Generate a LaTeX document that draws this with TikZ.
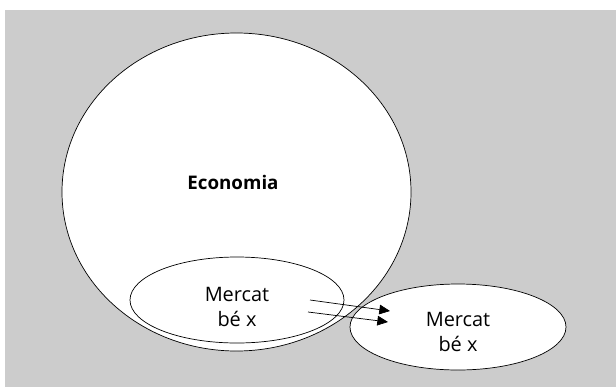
\documentclass[tikz,border=0pt]{standalone}
\usepackage{fontspec}
\setmainfont{Open Sans}
\usetikzlibrary{arrows.meta, shapes.geometric, calc}
\definecolor{panelgray}{RGB}{204,204,204}

\begin{document}
\begin{tikzpicture}[
    x=0.03cm, y=-0.03cm,
    blob/.style={ellipse, draw, fill=white, inner sep=0pt, line width=0.6pt},
    mtext/.style={font=\fontsize{17}{21}\selectfont, align=center},
    arr/.style={-{Triangle[length=0.32cm, width=0.29cm]}, line width=0.6pt}
  ]
    \useasboundingbox (0,0) rectangle (616,387);
    \fill[panelgray] (5,10) rectangle (616,387);

    %% ECONOMY
    \node[blob, minimum width=10.47cm, minimum height=9.54cm] (economia) at (236.5,192) {};
    \node[font=\fontsize{16}{19}\selectfont\bfseries] (econlabel) at (233,182) {Economia};

    %% MARKETS
    \node[blob, minimum width=6.42cm, minimum height=2.58cm] (mercatin) at (237,300) {};
    \node[mtext] (mercatinlabel) at ($(mercatin)+(0,7)$) {Mercat\\bé x};
    \node[blob, minimum width=6.48cm, minimum height=2.58cm] (mercatout) at (458,327) {};
    \node[mtext] (mercatoutlabel) at ($(mercatout)+(0,5)$) {Mercat\\bé x};

    %% ARROWS
    \coordinate (from1) at ($(mercatin.center)+(73,0)$);
    \coordinate (from2) at ($(mercatin.center)+(71,12)$);
    \coordinate (to1) at ($(mercatout.center)+(-68,-16)$);
    \coordinate (to2) at ($(mercatout.center)+(-70,-5)$);
    \draw[arr] (from1) -- (to1);
    \draw[arr] (from2) -- (to2);
  \end{tikzpicture}
\end{document}
